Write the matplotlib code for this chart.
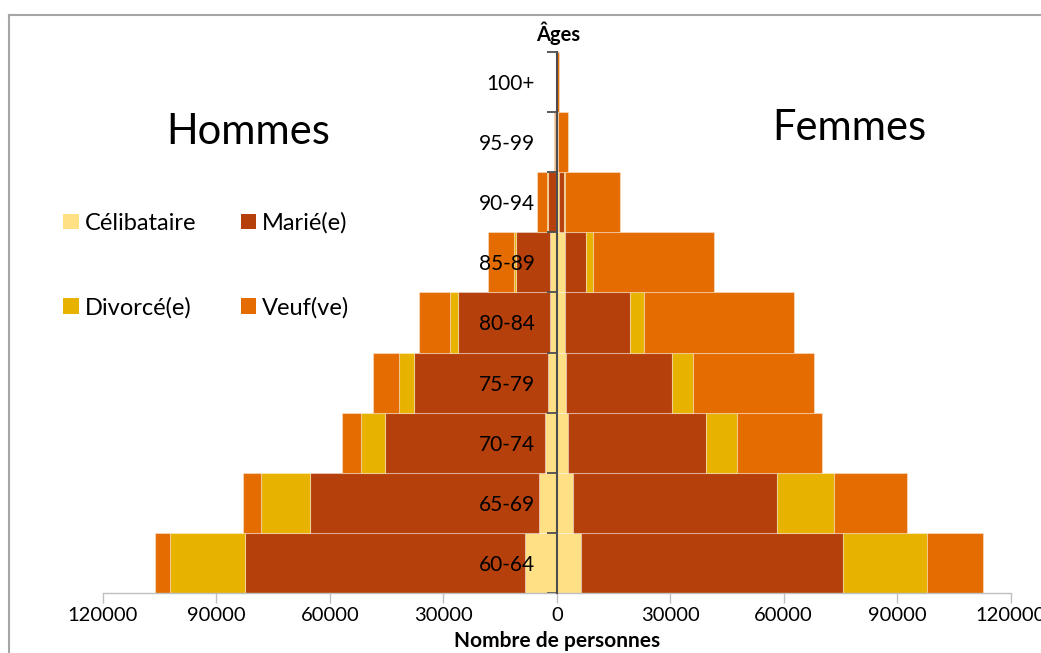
import numpy as np
import matplotlib
matplotlib.use("Agg")
import matplotlib.pyplot as plt
from matplotlib.patches import Patch
from matplotlib.lines import Line2D
from matplotlib.ticker import FuncFormatter

plt.rcParams['font.family'] = ['Lato', 'DejaVu Sans']

# tranches d'âge, de bas en haut
ages = ["60-64", "65-69", "70-74", "75-79", "80-84", "85-89", "90-94", "95-99", "100+"]

# hommes (valeurs positives, tracées à gauche)
h_celib = [8500, 4800, 3000, 2400, 1700, 1700, 300, 100, 20]
h_marie = [73900, 60400, 42400, 35400, 24400, 9100, 2100, 300, 20]
h_divorce = [19900, 13000, 6300, 3900, 2100, 600, 200, 20, 0]
h_veuf = [3900, 4800, 5100, 7000, 8200, 6800, 2600, 300, 40]

# femmes
f_celib = [6400, 4200, 2900, 2500, 2300, 2200, 700, 200, 100]
f_marie = [69400, 54100, 36500, 27900, 17100, 5500, 1100, 100, 20]
f_divorce = [22000, 15100, 8200, 5600, 3700, 1800, 500, 50, 10]
f_veuf = [14900, 19100, 22600, 31900, 39700, 32000, 14500, 2600, 450]

statuts = ["Célibataire", "Marié(e)", "Divorcé(e)", "Veuf(ve)"]
couleurs = ["#FFE085", "#B5400B", "#E8B200", "#E46C00"]

W, H = 1041, 653
fig = plt.figure(figsize=(W / 100, H / 100), dpi=100)
ax = fig.add_axes([103 / W, (H - 593) / H, 907.6 / W, 541 / H])

y = np.arange(len(ages))
edge = (1, 1, 1, 0.35)

# barres empilées du centre vers l'extérieur
gauche = np.zeros(len(ages))
for vals, c in zip([h_celib, h_marie, h_divorce, h_veuf], couleurs):
    v = np.array(vals, dtype=float)
    ax.barh(y, -v, left=-gauche, height=1.0, color=c, edgecolor=edge, linewidth=0.8)
    gauche += v

droite = np.zeros(len(ages))
for vals, c in zip([f_celib, f_marie, f_divorce, f_veuf], couleurs):
    v = np.array(vals, dtype=float)
    ax.barh(y, v, left=droite, height=1.0, color=c, edgecolor=edge, linewidth=0.8)
    droite += v

ax.set_xlim(-120000, 120000)
ax.set_ylim(-0.5, len(ages) - 0.5)

ax.set_xticks(np.arange(-120000, 120001, 30000))
ax.xaxis.set_major_formatter(FuncFormatter(lambda v, p: f"{abs(int(v))}"))
ax.tick_params(axis="x", length=7, width=1, color="#BFBFBF", pad=3, labelsize=14.5)

# axe vertical au zéro, étiquettes au milieu des tranches
ax.spines["left"].set_position(("data", 0))
ax.spines["left"].set_color("#4D4D4D")
ax.spines["left"].set_linewidth(1.5)
ax.spines["left"].set_zorder(5)
ax.set_yticks(np.arange(-0.5, len(ages), 1.0))
ax.set_yticklabels([])
ax.tick_params(axis="y", which="major", length=7, width=1.3, color="#4D4D4D")
ax.set_yticks(y, minor=True)
ax.set_yticklabels(ages, minor=True)
ax.tick_params(axis="y", which="minor", length=0, pad=16, labelsize=15)

ax.spines["bottom"].set_color("#BFBFBF")
ax.spines["bottom"].set_linewidth(1)
ax.spines["top"].set_visible(False)
ax.spines["right"].set_visible(False)

fig.text(558 / W, 1 - 33 / H, "Âges", ha="center", va="center", fontsize=14.5, fontweight="bold")
fig.text(557 / W, 1 - 641 / H, "Nombre de personnes", ha="center", va="center",
         fontsize=15, fontweight="bold")
fig.text(248 / W, 1 - 132 / H, "Hommes", ha="center", va="center", fontsize=30)
fig.text(849 / W, 1 - 128 / H, "Femmes", ha="center", va="center", fontsize=30)

# légende en deux colonnes (remplissage par colonne)
ordre = [0, 2, 1, 3]
poignees = [Patch(facecolor=couleurs[i], edgecolor="none") for i in ordre]
fig.legend(poignees, [statuts[i] for i in ordre], ncol=2, loc="upper left",
           bbox_to_anchor=(42 / W, 1 - 191 / H), frameon=False, fontsize=17,
           handlelength=0.65, handleheight=0.65, handletextpad=0.25,
           labelspacing=2.67, columnspacing=1.9)

# cadre du graphique
fig.add_artist(Line2D([9 / W, 1.0], [1 - 15 / H, 1 - 15 / H], color="#A6A6A6", lw=1.5))
fig.add_artist(Line2D([9 / W, 9 / W], [0.0, 1 - 15 / H], color="#A6A6A6", lw=1.5))

fig.savefig("out.png", dpi=100)
